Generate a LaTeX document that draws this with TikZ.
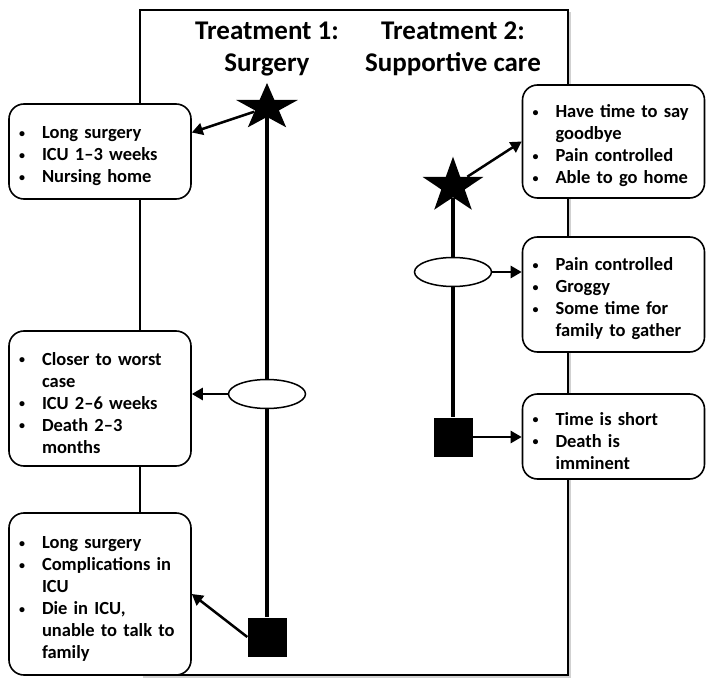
\documentclass[tikz,border=0pt]{standalone}
\usepackage{fontspec}
\setmainfont{Carlito}
\usetikzlibrary{arrows,arrows.meta,positioning,shapes}
\newcommand{\bul}[1]{\par\hangindent=23pt\hangafter=1\noindent\hbox to 23pt{\raisebox{1.5pt}{\fontsize{12}{12}\selectfont\textbullet}\hfil}#1}

\begin{document}
\begin{tikzpicture}[x=1pt,y=-1pt,
  box/.style={draw,fill=white,rounded corners=15pt,line width=1.6pt,text width=162pt,inner xsep=10pt,align=left,font=\fontsize{18.5}{22}\selectfont\bfseries},
  hd/.style={align=center,font=\fontsize{27}{32}\selectfont\bfseries},
  sq/.style={fill=black,minimum size=39pt,inner sep=0pt},
  st/.style={star,star points=5,star point ratio=2.6,fill=black,inner sep=0pt},
  ov/.style={ellipse,draw,fill=white,line width=1.5pt,minimum width=77pt,minimum height=29pt,inner sep=0pt},
  arr/.style={-{Triangle[length=11pt,width=12pt]},line width=2.5pt}]
    \useasboundingbox (0,0) rectangle (714,692);
    \fill[black!18] (142.5,12.5) rectangle (570.5,677.5);
    \draw[line width=2pt,fill=white] (140,10) rectangle (568,675);

    \node[hd] (t1) at (267,49) {Treatment 1:\\Surgery};
    \node[hd] (t2) at (453,49) {Treatment 2:\\Supportive care};

    \node[st,minimum size=49pt,xscale=1.33] (s1) at (267,107.5) {};
    \node[st,minimum size=58.6pt,xscale=1.09] (s2) at (453,186) {};
    \node[sq] (q1) at (267,637) {};
    \node[sq] (q2) at (453,437) {};
    \draw[line width=4pt] (s1) -- (q1);
    \draw[line width=4pt] (s2) -- (q2);
    \node[ov] (e1) at (267,394) {};
    \node[ov] (e2) at (453,272) {};

    \node[box,minimum height=95pt] (b1) at (100,151.5) {\bul{Long surgery}\bul{ICU 1--3 weeks}\bul{Nursing home}\par};
    \node[box,minimum height=135pt] (b2) at (100,398.5) {\bul{Closer to worst\newline case}\bul{ICU 2--6 weeks}\bul{Death 2--3\newline months}\par};
    \node[box,minimum height=162pt] (b3) at (100,594) {\bul{Long surgery}\bul{Complications in\newline ICU}\bul{Die in ICU,\newline unable to talk to\newline family}\par};
    \node[box,minimum height=113pt] (b4) at (613.5,141.5) {\bul{Have time to say\newline goodbye}\bul{Pain controlled}\bul{Able to go home}\par};
    \node[box,minimum height=115pt] (b5) at (613.5,294.5) {\bul{Pain controlled}\bul{Groggy}\bul{Some time for\newline family to gather}\par};
    \node[box,minimum height=85pt] (b6) at (613.5,436.5) {\bul{Time is short}\bul{Death is\newline imminent}\par};

    \draw[arr] (s1) -- ([yshift=19pt]b1.east);
    \draw[arr] (e1.west) -- (e1.west -| b2.east);
    \draw[arr] (q1.west) -- (b3.east);
    \draw[arr] (s2) -- (b4.west);
    \draw[arr] (e2.east) -- (e2.east -| b5.west);
    \draw[arr] (q2.east) -- (q2.east -| b6.west);
\end{tikzpicture}
\end{document}
